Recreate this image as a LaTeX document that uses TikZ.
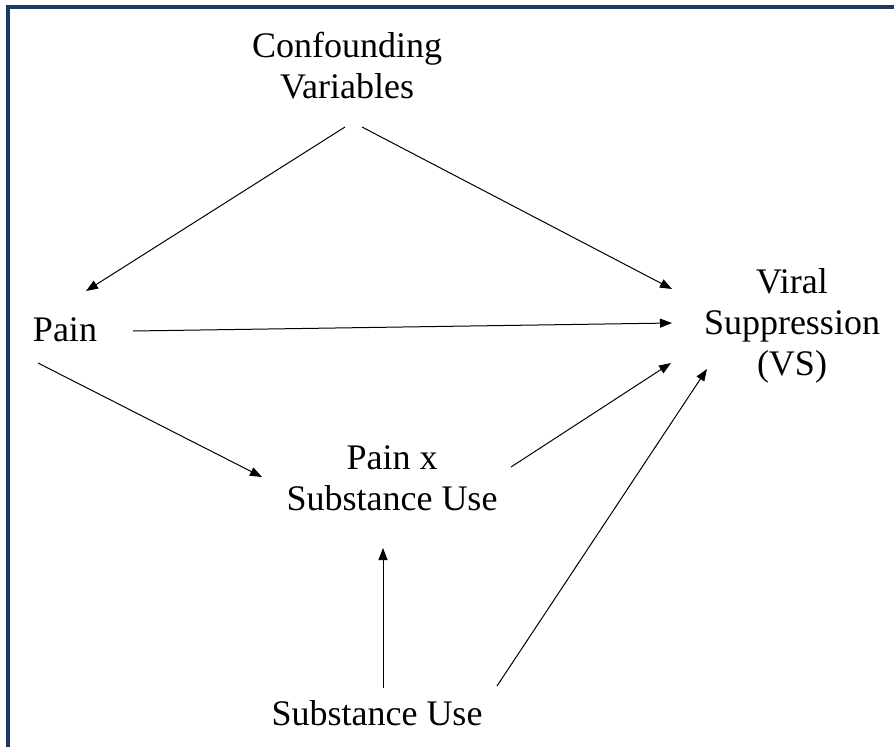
\documentclass[tikz,border=0pt]{standalone}
\usepackage{fontspec}
\setmainfont{Liberation Serif}
\usetikzlibrary{arrows.meta,calc}
\definecolor{framenavy}{RGB}{31,56,100}
\begin{document}
\begin{tikzpicture}[x=1pt,y=-1pt,
  lbl/.style={inner sep=0pt,align=center,font=\fontsize{36}{41}\selectfont},
  link/.style={line width=1pt,-{Triangle[length=12pt,width=9pt]}}]
\useasboundingbox (0,0) rectangle (894,747);
\draw[framenavy,line width=4pt] (8,747) -- (8,7) -- (894,7);
\node[lbl] (cv) at (347,66) {Confounding\\Variables};
\node[lbl] (pain) at (65,330) {Pain};
\node[lbl] (vs) at (792,326) {Viral\\Suppression\\(VS)};
\node[lbl] (pxsu) at (392,478) {Pain x\\Substance Use};
\node[lbl] (su) at (377,713) {Substance Use};
\draw[link] ($(cv)+(-2,61)$) -- ($(pain)+(21,-39)$);
\draw[link] ($(cv)+(15,61)$) -- ($(vs)+(-120,-37)$);
\draw[link] ($(pain)+(68,1)$) -- ($(vs)+(-120,-3)$);
\draw[link] ($(pain)+(-27,33)$) -- ($(pxsu)+(-130,-1)$);
\draw[link] ($(pxsu)+(119,-11)$) -- ($(vs)+(-121,37)$);
\draw[link] ($(su)+(6,-25)$) -- ($(pxsu)+(-9,70)$);
\draw[link] ($(su)+(120,-27)$) -- ($(vs)+(-85,43)$);
\end{tikzpicture}
\end{document}
